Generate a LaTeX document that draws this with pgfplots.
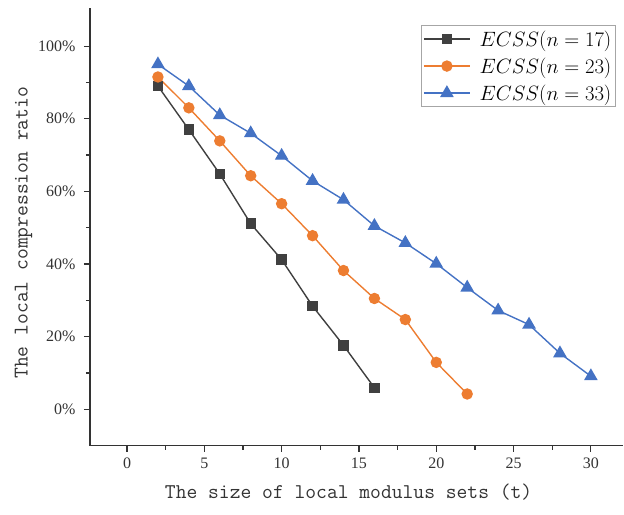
\documentclass[border=0pt]{standalone}
\usepackage{fontspec}
\setmainfont{Liberation Serif}
\usepackage{pgfplots}
\pgfplotsset{compat=1.18}
\DeclareMathSizes{22.7}{22.7}{16}{12}

\definecolor{sqgray}{HTML}{404040}
\definecolor{cirorange}{HTML}{ED7D31}
\definecolor{tribblue}{HTML}{4472C4}
\definecolor{axisgray}{HTML}{333333}

\begin{document}
\begin{tikzpicture}
\begin{axis}[
  scale only axis,
  width=534pt, height=438pt,
  xmin=-2.4, xmax=32.1,
  ymin=-10, ymax=110.5,
  axis x line*=bottom,
  axis y line*=left,
  axis line style={axisgray, line width=1.3pt},
  xtick={0,5,...,30},
  ytick={0,20,...,100},
  minor x tick num=1,
  minor y tick num=1,
  tick align=outside,
  major tick length=6pt,
  minor tick length=4pt,
  every tick/.style={axisgray, line width=1.2pt},
  yticklabel={\pgfmathprintnumber{\tick}\%},
  /pgf/number format/assume math mode=true,
  tick label style={font=\fontsize{16}{16}\selectfont, text=axisgray},
  xticklabel style={yshift=-3pt},
  yticklabel style={xshift=-5pt},
  label style={font=\fontsize{21}{21}\selectfont\ttfamily, text=axisgray},
  xlabel={The size of local modulus sets (t)},
  ylabel={The local compression ratio},
  xlabel style={yshift=-8pt, xshift=-8pt},
  ylabel style={yshift=-1pt, xshift=-6pt},
  legend style={
    at={(0.986,0.961)}, anchor=north east,
    draw=gray!70, line width=1pt,
    font=\fontsize{22.7}{27}\selectfont,
    inner xsep=2pt, inner ysep=3pt,
    row sep=6pt, column sep=7pt,
  },
  legend cell align=left,
  legend image code/.code={%
    \draw[mark repeat=2, mark phase=2]
      plot coordinates {(0pt,0pt) (23pt,0pt) (46pt,0pt)};},
  every axis plot/.append style={line width=1.4pt},
]
\addplot[sqgray, mark=square*, mark size=4.5pt, mark options={solid}]
  coordinates {(2,89) (4,77) (6,64.8) (8,51.1) (10,41.2) (12,28.4) (14,17.6) (16,5.9)};
\addlegendentry{$ECSS(n=17)$}
\addplot[cirorange, mark=*, mark size=5pt]
  coordinates {(2,91.5) (4,83) (6,73.9) (8,64.3) (10,56.6) (12,47.8) (14,38.2) (16,30.5) (18,24.7) (20,12.9) (22,4.2)};
\addlegendentry{$ECSS(n=23)$}
\addplot[tribblue, mark=triangle*, mark size=6.5pt]
  coordinates {(2,95) (4,89) (6,81) (8,76) (10,69.8) (12,62.9) (14,57.7) (16,50.5) (18,45.8) (20,40.1) (22,33.5) (24,27.2) (26,23.3) (28,15.4) (30,9.1)};
\addlegendentry{$ECSS(n=33)$}
\end{axis}
\path[use as bounding box]
  ([xshift=-90pt, yshift=-69pt]current axis.south west)
  rectangle ([yshift=8pt]current axis.north east);
\end{tikzpicture}
\end{document}
